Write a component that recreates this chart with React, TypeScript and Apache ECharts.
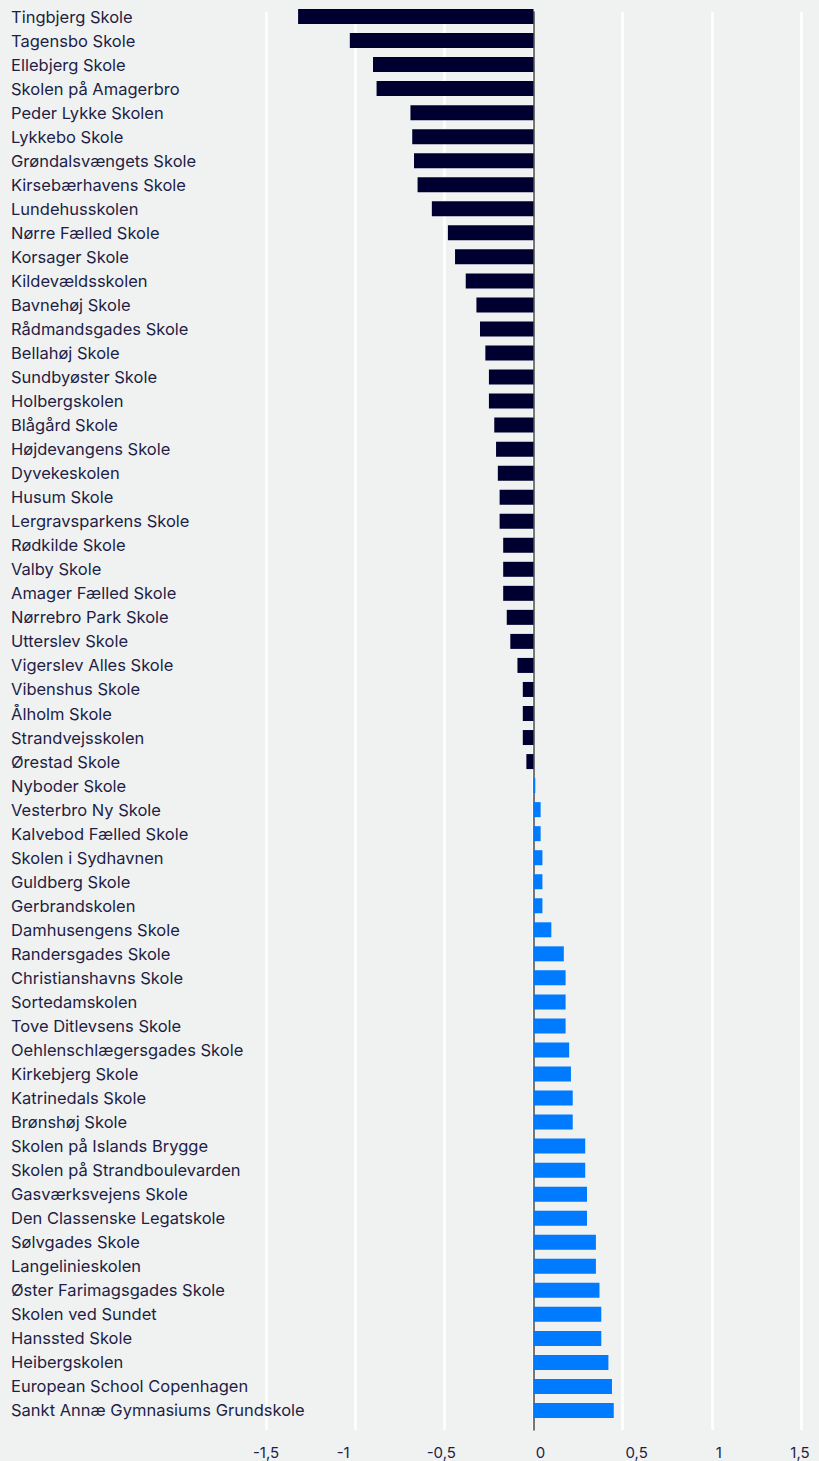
import React, { useEffect, useRef } from "react";
import * as echarts from "echarts";

const schools = [
  "Tingbjerg Skole",
  "Tagensbo Skole",
  "Ellebjerg Skole",
  "Skolen på Amagerbro",
  "Peder Lykke Skolen",
  "Lykkebo Skole",
  "Grøndalsvængets Skole",
  "Kirsebærhavens Skole",
  "Lundehusskolen",
  "Nørre Fælled Skole",
  "Korsager Skole",
  "Kildevældsskolen",
  "Bavnehøj Skole",
  "Rådmandsgades Skole",
  "Bellahøj Skole",
  "Sundbyøster Skole",
  "Holbergskolen",
  "Blågård Skole",
  "Højdevangens Skole",
  "Dyvekeskolen",
  "Husum Skole",
  "Lergravsparkens Skole",
  "Rødkilde Skole",
  "Valby Skole",
  "Amager Fælled Skole",
  "Nørrebro Park Skole",
  "Utterslev Skole",
  "Vigerslev Alles Skole",
  "Vibenshus Skole",
  "Ålholm Skole",
  "Strandvejsskolen",
  "Ørestad Skole",
  "Nyboder Skole",
  "Vesterbro Ny Skole",
  "Kalvebod Fælled Skole",
  "Skolen i Sydhavnen",
  "Guldberg Skole",
  "Gerbrandskolen",
  "Damhusengens Skole",
  "Randersgades Skole",
  "Christianshavns Skole",
  "Sortedamskolen",
  "Tove Ditlevsens Skole",
  "Oehlenschlægersgades Skole",
  "Kirkebjerg Skole",
  "Katrinedals Skole",
  "Brønshøj Skole",
  "Skolen på Islands Brygge",
  "Skolen på Strandboulevarden",
  "Gasværksvejens Skole",
  "Den Classenske Legatskole",
  "Sølvgades Skole",
  "Langelinieskolen",
  "Øster Farimagsgades Skole",
  "Skolen ved Sundet",
  "Hanssted Skole",
  "Heibergskolen",
  "European School Copenhagen",
  "Sankt Annæ Gymnasiums Grundskole",
];

const scores = [
  -1.32, -1.03, -0.9, -0.88, -0.69, -0.68, -0.67, -0.65, -0.57, -0.48,
  -0.44, -0.38, -0.32, -0.3, -0.27, -0.25, -0.25, -0.22, -0.21, -0.2,
  -0.19, -0.19, -0.17, -0.17, -0.17, -0.15, -0.13, -0.09, -0.06, -0.06,
  -0.06, -0.04, 0.01, 0.04, 0.04, 0.05, 0.05, 0.05, 0.1, 0.17,
  0.18, 0.18, 0.18, 0.2, 0.21, 0.22, 0.22, 0.29, 0.29, 0.3,
  0.3, 0.35, 0.35, 0.37, 0.38, 0.38, 0.42, 0.44, 0.45,
];

const axisMin = -1.5;
const axisMax = 1.5;
const axisStep = 0.5;

// horizontal nudges (px) of each tick label, as in the reference rendering
const tickLabelShift = [0, -12, -3, 7, 14, 7, -1];

const NEG_COLOR = "#000030";
const POS_COLOR = "#007bff";
const BG = "#f0f2f1";
const TEXT = "#1e1e46";
const FONT = "Inter, 'Noto Sans', sans-serif";

export default function App() {
  const ref = useRef<HTMLDivElement>(null);

  useEffect(() => {
    if (!ref.current) return;
    const chart = echarts.init(ref.current, undefined, { renderer: "svg" });

    const rich: Record<string, any> = {};
    tickLabelShift.forEach((s, i) => {
      rich["t" + i] = {
        fontSize: 15,
        lineHeight: 14,
        fontFamily: FONT,
        color: TEXT,
        padding: s >= 0 ? [0, 0, 0, 2 * s] : [0, -2 * s, 0, 0],
      };
    });

    const option: any = {
      animation: false,
      backgroundColor: BG,
      grid: [
        { left: 266, width: 535, top: 4.5, height: 1418 },
        { left: 266, width: 535, top: 12, height: 1418 },
      ],
      xAxis: [
        {
          gridIndex: 0,
          type: "value",
          min: axisMin,
          max: axisMax,
          interval: axisStep,
          show: false,
        },
        {
          gridIndex: 1,
          type: "value",
          min: axisMin,
          max: axisMax,
          interval: axisStep,
          axisLine: { show: false },
          axisTick: { show: false },
          splitLine: { show: true, lineStyle: { color: "#ffffff", width: 2.5 } },
          axisLabel: {
            margin: 15,
            lineHeight: 14,
            formatter: (v: number) => {
              const idx = Math.round((v - axisMin) / axisStep);
              return "{t" + idx + "|" + String(v).replace(".", ",") + "}";
            },
            rich,
          },
        },
      ],
      yAxis: [
        {
          gridIndex: 0,
          type: "category",
          data: schools,
          inverse: true,
          axisLine: { show: false },
          axisTick: { show: false },
          splitLine: { show: false },
          axisLabel: {
            interval: 0,
            align: "left",
            margin: 255,
            color: TEXT,
            fontSize: 16.5,
            fontFamily: FONT,
          },
        },
        {
          gridIndex: 1,
          type: "value",
          min: 0,
          max: 1,
          axisLine: {
            show: true,
            onZero: true,
            lineStyle: { color: "#4a4a4a", width: 1.5 },
          },
          axisTick: { show: false },
          axisLabel: { show: false },
          splitLine: { show: false },
        },
      ],
      series: [
        {
          type: "bar",
          xAxisIndex: 0,
          yAxisIndex: 0,
          data: scores,
          barWidth: 15,
          itemStyle: {
            color: (p: any) => (p.value < 0 ? NEG_COLOR : POS_COLOR),
          },
        },
      ],
    };

    chart.setOption(option);
    return () => chart.dispose();
  }, []);

  return (
    <div
      ref={ref}
      style={{ position: "absolute", left: 0, top: 0, width: 819, height: 1461 }}
    />
  );
}
